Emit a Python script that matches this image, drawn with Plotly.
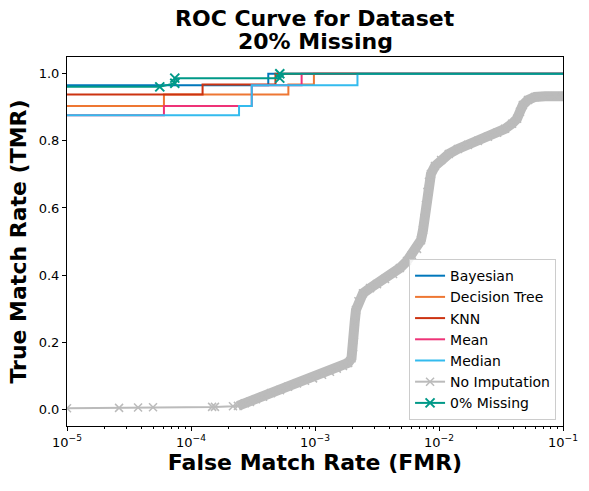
import plotly.graph_objects as go

# ---------------- data ----------------
bayes_fmr = [1e-6, 4.2e-4, 4.2e-4, 1.0]
bayes_tmr = [0.966, 0.966, 1.0, 1.0]

dt_fmr = [1e-6, 6.05e-5, 6.05e-5, 6.1e-4, 6.1e-4, 9.8e-4, 9.8e-4, 1.0]
dt_tmr = [0.904, 0.904, 0.938, 0.938, 0.968, 0.968, 1.0, 1.0]

knn_fmr = [1e-6, 1.24e-4, 1.24e-4, 4.8e-4, 4.8e-4, 1.0]
knn_tmr = [0.938, 0.938, 0.968, 0.968, 1.0, 1.0]

mean_fmr = [1e-6, 6.05e-5, 6.05e-5, 3.09e-4, 3.09e-4, 7.8e-4, 7.8e-4, 1.0]
mean_tmr = [0.876, 0.876, 0.904, 0.904, 0.966, 0.966, 1.0, 1.0]

median_fmr = [1e-6, 2.44e-4, 2.44e-4, 3.09e-4, 3.09e-4, 2.2e-3, 2.2e-3, 1.0]
median_tmr = [0.876, 0.876, 0.904, 0.904, 0.966, 0.966, 1.0, 1.0]

noimp_fmr = [1.0e-5, 2.63e-5, 3.74e-5, 4.94e-5, 1.48e-4, 1.56e-4, 2.18e-4, 2.39e-4,
             2.72e-4, 2.99e-4, 3.34e-4, 3.81e-4, 4.42e-4, 5.22e-4, 6.06e-4, 7.16e-4,
             8.30e-4, 9.64e-4, 1.14e-3, 1.32e-3, 1.50e-3, 1.68e-3, 1.85e-3, 1.97e-3,
             2.03e-3, 2.06e-3, 2.09e-3, 2.14e-3, 2.24e-3, 2.44e-3, 2.78e-3, 3.16e-3,
             3.67e-3, 4.26e-3, 4.84e-3, 5.52e-3, 6.05e-3, 6.65e-3, 7.16e-3, 7.43e-3,
             7.64e-3, 7.85e-3, 8.07e-3, 8.30e-3, 8.61e-3, 9.28e-3, 1.04e-2, 1.20e-2,
             1.42e-2, 1.71e-2, 2.06e-2, 2.48e-2, 2.94e-2, 3.41e-2, 3.88e-2, 4.26e-2,
             4.50e-2, 4.75e-2, 5.22e-2, 5.94e-2, 7.16e-2, 8.62e-2, 1.0e-1]
noimp_tmr = [0.003, 0.004, 0.005, 0.006, 0.007, 0.007, 0.009, 0.010,
             0.018, 0.022, 0.030, 0.037, 0.048, 0.057, 0.067, 0.077,
             0.085, 0.092, 0.103, 0.112, 0.121, 0.129, 0.138, 0.152,
             0.185, 0.221, 0.260, 0.296, 0.322, 0.346, 0.361, 0.373,
             0.388, 0.403, 0.421, 0.442, 0.460, 0.478, 0.504, 0.534,
             0.570, 0.609, 0.648, 0.678, 0.701, 0.725, 0.743, 0.761,
             0.776, 0.788, 0.800, 0.812, 0.824, 0.836, 0.851, 0.866,
             0.887, 0.907, 0.922, 0.931, 0.933, 0.933, 0.933]

full_fmr = [1e-6, 5.6e-5, 7.4e-5, 7.4e-5, 5.2e-4, 5.2e-4, 1.0]
full_tmr = [0.961, 0.961, 0.972, 0.987, 0.987, 1.0, 1.0]

x_tickvals = [1e-5, 1e-4, 1e-3, 1e-2, 1e-1]
x_ticktext = ["10<sup>\u22125</sup>", "10<sup>\u22124</sup>", "10<sup>\u22123</sup>",
              "10<sup>\u22122</sup>", "10<sup>\u22121</sup>"]
y_tickvals = [0.0, 0.2, 0.4, 0.6, 0.8, 1.0]

title_lines = ["ROC Curve for Dataset", "20% Missing"]

colors = {
    "Bayesian": "#0077BB",
    "Decision Tree": "#EE7733",
    "KNN": "#CC3311",
    "Mean": "#EE3377",
    "Median": "#33BBEE",
    "No Imputation": "#BBBBBB",
    "0% Missing": "#009988",
}

fig = go.Figure()

for name, xs, ys in [("Bayesian", bayes_fmr, bayes_tmr),
                     ("Decision Tree", dt_fmr, dt_tmr),
                     ("KNN", knn_fmr, knn_tmr),
                     ("Mean", mean_fmr, mean_tmr),
                     ("Median", median_fmr, median_tmr)]:
    fig.add_trace(go.Scatter(x=xs, y=ys, mode="lines", name=name,
                             line=dict(color=colors[name], width=2)))

# dense band of the No Imputation curve (overlapping markers in the original)
fig.add_trace(go.Scatter(x=noimp_fmr[7:], y=noimp_tmr[7:], mode="lines",
                         showlegend=False, hoverinfo="skip",
                         line=dict(color=colors["No Imputation"], width=10)))
fig.add_trace(go.Scatter(x=noimp_fmr, y=noimp_tmr, mode="lines+markers",
                         name="No Imputation",
                         line=dict(color=colors["No Imputation"], width=2),
                         marker=dict(symbol="x-thin", size=8,
                                     line=dict(color=colors["No Imputation"], width=1.5))))
fig.add_trace(go.Scatter(x=full_fmr, y=full_tmr, mode="lines+markers",
                         name="0% Missing",
                         line=dict(color=colors["0% Missing"], width=2),
                         marker=dict(symbol="x-thin", size=9,
                                     line=dict(color=colors["0% Missing"], width=2))))

minor_vals = [m * 10.0 ** e for e in range(-5, -1) for m in range(2, 10)]

fig.update_layout(
    width=589, height=491,
    margin=dict(l=67, r=26, t=57, b=65, autoexpand=False),
    paper_bgcolor="white", plot_bgcolor="white",
    font=dict(family="DejaVu Sans", size=13, color="black"),
    showlegend=True,
    legend=dict(x=0.986, y=0.016, xanchor="right", yanchor="bottom",
                bgcolor="rgba(255,255,255,0.8)", bordercolor="#CCCCCC", borderwidth=1,
                font=dict(size=14, family="DejaVu Sans")),
    xaxis=dict(type="log", range=[-5, -1], automargin=False,
               tickmode="array", tickvals=x_tickvals, ticktext=x_ticktext,
               ticks="outside", ticklen=4, tickcolor="black",
               showline=True, linecolor="black", linewidth=1, mirror=True,
               showgrid=False, zeroline=False,
               minor=dict(tickmode="array", tickvals=minor_vals, ticks="outside",
                          ticklen=2, tickcolor="black", showgrid=False),
               tickfont=dict(size=13),
               title=dict(text="<b>False Match Rate (FMR)</b>",
                          font=dict(size=22), standoff=6)),
    yaxis=dict(range=[-0.05, 1.05], automargin=False,
               tickmode="array", tickvals=y_tickvals,
               tickformat=".1f",
               ticks="outside", ticklen=4, tickcolor="black",
               showline=True, linecolor="black", linewidth=1, mirror=True,
               showgrid=False, zeroline=False,
               tickfont=dict(size=13),
               title=dict(text="<b>True Match Rate (TMR)</b>",
                          font=dict(size=22), standoff=6)),
    annotations=[
        dict(text="<b>" + title_lines[0] + "</b>", x=0.5, y=1.103,
             xref="paper", yref="paper", xanchor="center", yanchor="middle",
             showarrow=False, font=dict(size=22, family="DejaVu Sans")),
        dict(text="<b>" + title_lines[1] + "</b>", x=0.5, y=1.041,
             xref="paper", yref="paper", xanchor="center", yanchor="middle",
             showarrow=False, font=dict(size=22, family="DejaVu Sans")),
    ],
)

fig.write_html("out.html", config={"displayModeBar": False},
               post_script="document.body.style.margin='0';document.body.style.padding='0';")
